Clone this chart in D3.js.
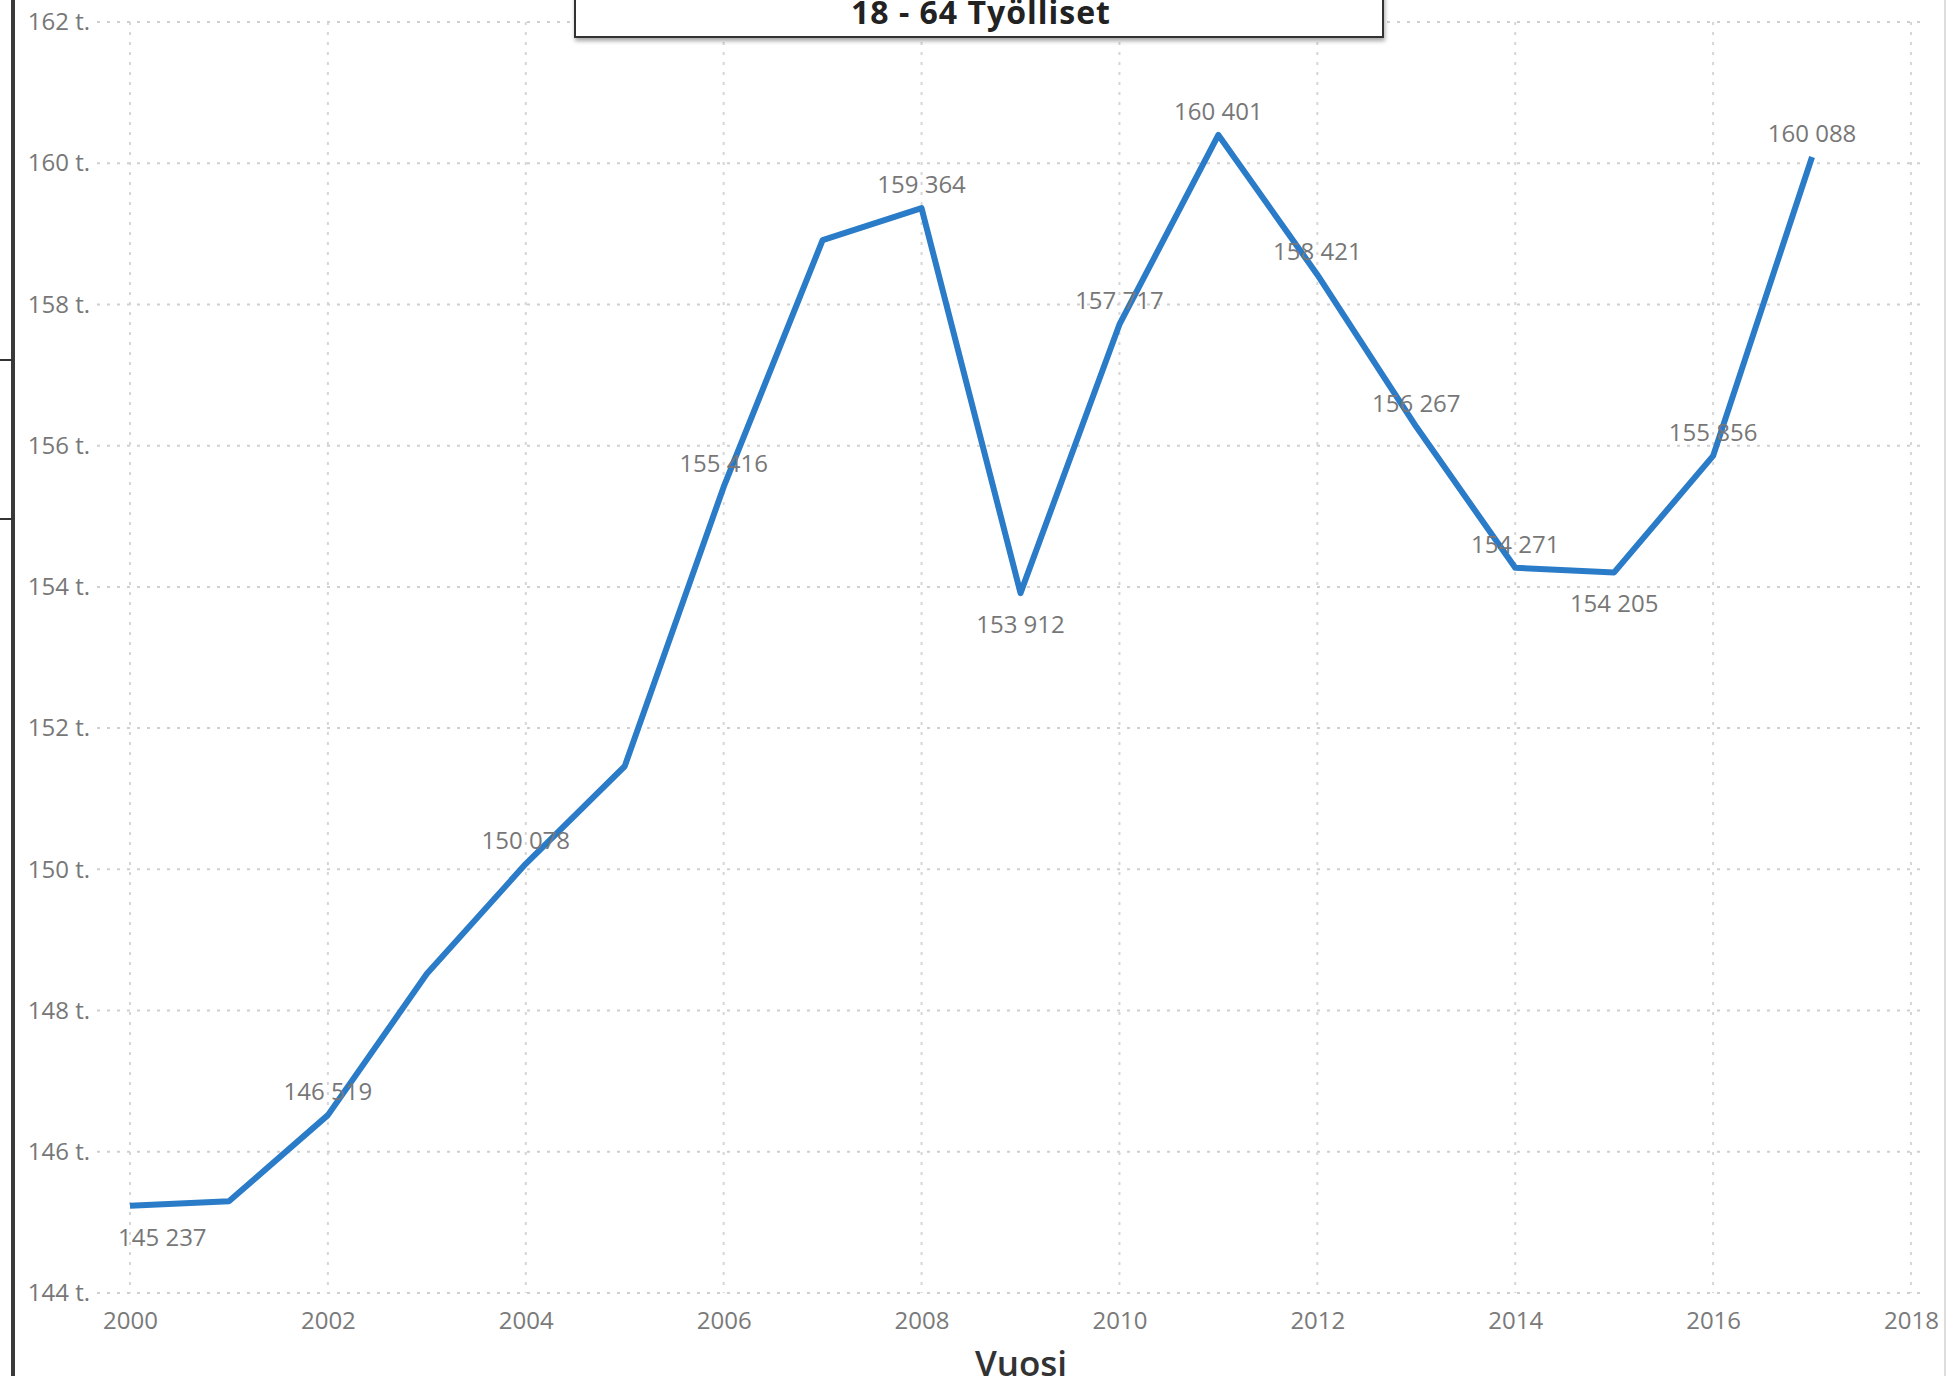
<!DOCTYPE html>
<html>
<head>
<meta charset="utf-8">
<script src="https://cdn.jsdelivr.net/npm/d3@7"></script>
<style>
  body { margin: 0; background: #fff; }
  svg { display: block; }
</style>
</head>
<body>
<div id="chart"></div>
<script>
// data
var years = [2000, 2001, 2002, 2003, 2004, 2005, 2006, 2007, 2008,
             2009, 2010, 2011, 2012, 2013, 2014, 2015, 2016, 2017];
var employed = [145237, 145300, 146519, 148520, 150078, 151460, 155416, 158910, 159364,
                153912, 157717, 160401, 158421, 156267, 154271, 154205, 155856, 160088];
// which points carry a data label
var labelled = [true, false, true, false, true, false, true, false, true,
                true, true, true, true, true, true, true, true, true];
var yTicks = [144, 146, 148, 150, 152, 154, 156, 158, 160, 162];
var xTicks = [2000, 2002, 2004, 2006, 2008, 2010, 2012, 2014, 2016, 2018];
var title = "18 - 64 Työlliset";
var xTitle = "Vuosi";

var W = 1947, H = 1376;
var plotLeft = 130, plotRight = 1911, plotTop = 22, plotBottom = 1293;

var svg = d3.select("#chart").append("svg")
	.attr("width", W)
	.attr("height", H);

var x = d3.scaleLinear().domain([2000, 2018]).range([plotLeft, plotRight]);
var y = d3.scaleLinear().domain([144, 162]).range([plotBottom, plotTop]);

var font = "'Open Sans', 'Noto Sans', sans-serif";

//grid lines
svg.append("g").selectAll("line")
	.data(yTicks).enter().append("line")
	.attr("x1", 97).attr("x2", 1927)
	.attr("y1", function(d){ return y(d); })
	.attr("y2", function(d){ return y(d); })
	.attr("stroke", "#cfcfcf").attr("stroke-width", 2)
	.attr("stroke-dasharray", "3,7");

svg.append("g").selectAll("line")
	.data(xTicks).enter().append("line")
	.attr("x1", function(d){ return x(d); })
	.attr("x2", function(d){ return x(d); })
	.attr("y1", plotTop).attr("y2", plotBottom)
	.attr("stroke", "#d6d6d6").attr("stroke-width", 2)
	.attr("stroke-dasharray", "3,7");

//y axis labels
var yAxis = svg.append("g")
	.attr("transform", "translate(90,0)")
	.call(d3.axisLeft(y).tickValues(yTicks).tickSize(0).tickPadding(0)
		.tickFormat(function(d){ return d + " t."; }));
yAxis.select(".domain").remove();
yAxis.selectAll("text")
	.attr("font-family", font).attr("font-size", 24)
	.attr("fill", "#777");

//x axis labels
var xAxis = svg.append("g")
	.attr("transform", "translate(0," + (plotBottom + 19) + ")")
	.call(d3.axisBottom(x).tickValues(xTicks).tickSize(0).tickPadding(0)
		.tickFormat(d3.format("d")));
xAxis.select(".domain").remove();
xAxis.selectAll("text")
	.attr("font-family", font).attr("font-size", 24)
	.attr("fill", "#7a7a7a");

svg.append("text")
	.attr("x", 1021).attr("y", 1376)
	.attr("text-anchor", "middle")
	.attr("font-family", font).attr("font-size", 35).attr("font-weight", 600)
	.attr("fill", "#333")
	.text(xTitle);

//the line
var pts = years.map(function(d, i){ return {year: d, value: employed[i] / 1000, lab: labelled[i], i: i}; });

svg.append("path")
	.datum(pts)
	.attr("fill", "none")
	.attr("stroke", "#2a7bc8")
	.attr("stroke-width", 6)
	.attr("stroke-linejoin", "round")
	.attr("d", d3.line()
		.x(function(d){ return x(d.year); })
		.y(function(d){ return y(d.value); }));

//data labels, below the local minima, above otherwise
var fmt = function(v){ return d3.format(",")(v).replace(",", " "); };
var labels = svg.append("g").selectAll("text")
	.data(pts.filter(function(d){ return d.lab; }))
	.enter().append("text")
	.attr("font-family", font).attr("font-size", 24)
	.attr("fill", "#777")
	.attr("text-anchor", "middle")
	.attr("x", function(d){ return x(d.year); })
	.attr("y", function(d){
		var prev = d.i > 0 ? pts[d.i - 1].value : Infinity;
		var next = d.i < pts.length - 1 ? pts[d.i + 1].value : Infinity;
		var below = d.value < prev && d.value < next;
		return below ? y(d.value) + 40 : y(d.value) - 15;
	})
	.text(function(d){ return fmt(employed[d.i]); });

//keep labels inside the plot area
labels.each(function(){
	var t = d3.select(this);
	var w = this.getComputedTextLength();
	var cx = +t.attr("x");
	if (cx - w / 2 < 118) t.attr("x", 118 + w / 2);
});

//title box
var defs = svg.append("defs");
defs.append("filter").attr("id", "shadow")
	.attr("x", "-5%").attr("y", "-20%").attr("width", "110%").attr("height", "160%")
	.append("feDropShadow")
	.attr("dx", 1).attr("dy", 3).attr("stdDeviation", 2)
	.attr("flood-color", "#000").attr("flood-opacity", 0.35);

svg.append("rect")
	.attr("x", 575).attr("y", -20)
	.attr("width", 808).attr("height", 57)
	.attr("fill", "#fff")
	.attr("stroke", "#333").attr("stroke-width", 2)
	.attr("filter", "url(#shadow)");

svg.append("text")
	.attr("x", 981).attr("y", 24)
	.attr("text-anchor", "middle")
	.attr("font-family", font).attr("font-size", 32).attr("font-weight", 700)
	.attr("letter-spacing", 1)
	.attr("fill", "#222")
	.text(title);

//page frame pieces around the visual
svg.append("line")
	.attr("x1", 13).attr("x2", 13).attr("y1", 0).attr("y2", H)
	.attr("stroke", "#3a3a3a").attr("stroke-width", 4);
[360, 519].forEach(function(v){
	svg.append("line")
		.attr("x1", 0).attr("x2", 13).attr("y1", v).attr("y2", v)
		.attr("stroke", "#333").attr("stroke-width", 2);
});
svg.append("line")
	.attr("x1", 1945).attr("x2", 1945).attr("y1", 0).attr("y2", H)
	.attr("stroke", "#ddd").attr("stroke-width", 2);
</script>
</body>
</html>
